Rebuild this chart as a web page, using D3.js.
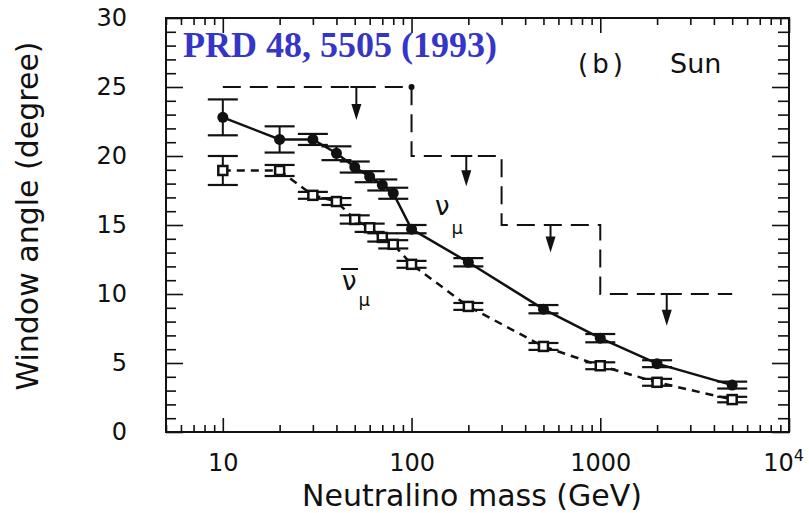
<!DOCTYPE html>
<html>
<head>
<meta charset="utf-8">
<title>Window angle vs neutralino mass (Sun)</title>
<style>
body { margin: 0; background: #fff; }
text { font-family: "DejaVu Sans", sans-serif; fill: #111; }
.tick line { stroke: #111; stroke-width: 1.6; }
</style>
</head>
<body>
<svg id="chart"></svg>
<script src="https://cdn.jsdelivr.net/npm/d3@7/dist/d3.min.js"></script>
<script>
// neutralino masses (GeV) shared by both curves
var mass = [10, 20, 30, 40, 50, 60, 70, 80, 100, 200, 500, 1000, 2000, 5000];
// nu_mu : solid line, filled dots
var nuMu    = [22.8, 21.2, 21.2, 20.2, 19.2, 18.5, 17.9, 17.3, 14.7, 12.3, 8.9, 6.8, 4.95, 3.4];
var nuMuErr = [1.3, 0.95, 0.4, 0.5, 0.4, 0.4, 0.4, 0.4, 0.3, 0.3, 0.3, 0.3, 0.25, 0.25];
// anti nu_mu : dashed line, open squares
var antiNu    = [18.95, 18.95, 17.15, 16.7, 15.4, 14.8, 14.1, 13.6, 12.15, 9.1, 6.2, 4.8, 3.6, 2.35];
var antiNuErr = [1.05, 0.4, 0.25, 0.25, 0.3, 0.3, 0.3, 0.3, 0.25, 0.25, 0.25, 0.25, 0.25, 0.2];
// upper limit staircase
var stepMass  = [10, 100, 100, 300, 300, 1000, 1000, 5000];
var stepAngle = [25, 25, 20, 20, 15, 15, 10, 10];
// down arrows hanging from the staircase
var arrowMass = [51, 195, 545, 2250];
var arrowFrom = [25, 20, 15, 10];
var arrowTo   = [22.6, 17.8, 13.0, 7.7];
// axis ticks
var xMajor = [10, 100, 1000, 10000];
var yMajor = [0, 5, 10, 15, 20, 25, 30];

var margin = { top: 18, right: 20, bottom: 81, left: 166 };
var width = 809 - margin.left - margin.right,
	height = 513 - margin.top - margin.bottom;

var x = d3.scaleLog()
	.domain([5, 10000])
	.range([0, width]);

var y = d3.scaleLinear()
	.domain([0, 30])
	.range([height, 0]);

var xMinor = x.ticks().filter(function (d) { return xMajor.indexOf(d) < 0; });
var yMinor = d3.range(0, 31).filter(function (d) { return d % 5 != 0; });

var root = d3.select("#chart")
	.attr("width", 809)
	.attr("height", 513);

var svg = root.append("g")
	.attr("transform", "translate(" + margin.left + "," + margin.top + ")");

function noDomain(g) { g.select(".domain").remove(); }
function tickFont(g) { g.attr("font-size", 24).attr("font-family", "DejaVu Sans"); }

// bottom
svg.append("g")
	.attr("transform", "translate(0," + height + ")")
	.call(d3.axisBottom(x).tickValues(xMinor).tickSize(-7).tickFormat(""))
	.call(noDomain);
var xAxisG = svg.append("g")
	.attr("transform", "translate(0," + height + ")")
	.call(d3.axisBottom(x).tickValues(xMajor).tickSize(-14).tickPadding(22)
		.tickFormat(function (d) { return d == 10000 ? "10" : d; }))
	.call(noDomain)
	.call(tickFont);
var lastTick = xAxisG.selectAll(".tick text")
	.filter(function (d) { return d == 10000; })
	.attr("dx", -6);
lastTick.append("tspan")
	.attr("dy", -10)
	.attr("font-size", 16)
	.text("4");

// top
svg.append("g")
	.call(d3.axisTop(x).tickValues(xMinor).tickSize(-7).tickFormat(""))
	.call(noDomain);
svg.append("g")
	.call(d3.axisTop(x).tickValues(xMajor).tickSize(-15).tickFormat(""))
	.call(noDomain);

// left
svg.append("g")
	.call(d3.axisLeft(y).tickValues(yMinor).tickSize(-10).tickFormat(""))
	.call(noDomain);
svg.append("g")
	.call(d3.axisLeft(y).tickValues(yMajor).tickSize(-17).tickPadding(39))
	.call(noDomain)
	.call(tickFont);

// right
svg.append("g")
	.attr("transform", "translate(" + width + ",0)")
	.call(d3.axisRight(y).tickValues(yMinor).tickSize(-11).tickFormat(""))
	.call(noDomain);
svg.append("g")
	.attr("transform", "translate(" + width + ",0)")
	.call(d3.axisRight(y).tickValues(yMajor).tickSize(-17).tickFormat(""))
	.call(noDomain);

svg.append("rect")
	.attr("width", width)
	.attr("height", height)
	.attr("fill", "none")
	.attr("stroke", "#111")
	.attr("stroke-width", 2);

var line = d3.line()
	.x(function (d) { return x(d[0]); })
	.y(function (d) { return y(d[1]); });

// staircase limit
svg.append("path")
	.datum(d3.zip(stepMass, stepAngle))
	.attr("d", line)
	.attr("fill", "none")
	.attr("stroke", "#111")
	.attr("stroke-width", 2)
	.attr("stroke-dasharray", "18,9");
svg.append("circle")
	.attr("cx", x(stepMass[1]))
	.attr("cy", y(stepAngle[1]))
	.attr("r", 3)
	.attr("fill", "#111");

var arrows = svg.selectAll(".arrow")
	.data(d3.zip(arrowMass, arrowFrom, arrowTo))
	.enter()
	.append("g")
	.attr("class", "arrow");
arrows.append("line")
	.attr("x1", function (d) { return x(d[0]); })
	.attr("x2", function (d) { return x(d[0]); })
	.attr("y1", function (d) { return y(d[1]); })
	.attr("y2", function (d) { return y(d[2]) - 14; })
	.attr("stroke", "#111")
	.attr("stroke-width", 2);
arrows.append("line")
	.attr("x1", function (d) { return x(d[0]) - 6; })
	.attr("x2", function (d) { return x(d[0]) + 6; })
	.attr("y1", function (d) { return y(d[1]); })
	.attr("y2", function (d) { return y(d[1]); })
	.attr("stroke", "#111")
	.attr("stroke-width", 2);
arrows.append("path")
	.attr("d", function (d) {
		var cx = x(d[0]), ty = y(d[2]);
		return "M" + (cx - 5) + "," + (ty - 16) + "L" + (cx + 5) + "," + (ty - 16) + "L" + cx + "," + ty + "Z";
	})
	.attr("fill", "#111");

// series
function drawSeries(vals, errs, dash, marker) {
	var pts = d3.zip(mass, vals, errs);
	var path = svg.append("path")
		.datum(pts)
		.attr("d", line)
		.attr("fill", "none")
		.attr("stroke", "#111")
		.attr("stroke-width", 2.5);
	if (dash) path.attr("stroke-dasharray", dash);

	var eb = svg.selectAll(null)
		.data(pts)
		.enter()
		.append("g");
	eb.append("line")
		.attr("x1", function (d) { return x(d[0]); })
		.attr("x2", function (d) { return x(d[0]); })
		.attr("y1", function (d) { return y(d[1] - d[2]); })
		.attr("y2", function (d) { return y(d[1] + d[2]); })
		.attr("stroke", "#111")
		.attr("stroke-width", 2);
	[-1, 1].forEach(function (s) {
		eb.append("line")
			.attr("x1", function (d) { return x(d[0]) - 15; })
			.attr("x2", function (d) { return x(d[0]) + 15; })
			.attr("y1", function (d) { return y(d[1] + s * d[2]); })
			.attr("y2", function (d) { return y(d[1] + s * d[2]); })
			.attr("stroke", "#111")
			.attr("stroke-width", 2.2);
	});
	if (marker == "circle") {
		eb.append("circle")
			.attr("cx", function (d) { return x(d[0]); })
			.attr("cy", function (d) { return y(d[1]); })
			.attr("r", 5.5)
			.attr("fill", "#111");
	} else {
		eb.append("rect")
			.attr("x", function (d) { return x(d[0]) - 4.5; })
			.attr("y", function (d) { return y(d[1]) - 4.5; })
			.attr("width", 9)
			.attr("height", 9)
			.attr("fill", "#fff")
			.attr("stroke", "#111")
			.attr("stroke-width", 2.5);
	}
}
drawSeries(antiNu, antiNuErr, "8,6", "square");
drawSeries(nuMu, nuMuErr, null, "circle");

// labels
root.append("text")
	.attr("x", 183)
	.attr("y", 57)
	.style("font-family", "'Liberation Serif', serif")
	.style("font-weight", "bold")
	.style("font-size", "36px")
	.style("fill", "#3535c8")
	.text("PRD 48, 5505 (1993)");

root.append("text")
	.attr("x", 578)
	.attr("y", 73)
	.attr("font-size", 26)
	.attr("letter-spacing", 4)
	.text("(b)");
root.append("text")
	.attr("x", 670)
	.attr("y", 73)
	.attr("font-size", 27)
	.text("Sun");

var nuLabel = root.append("text")
	.attr("x", 435)
	.attr("y", 215)
	.attr("font-size", 26)
	.text("ν");
nuLabel.append("tspan").attr("dx", 2).attr("dy", 19).attr("font-size", 18).text("μ");

var antiLabel = root.append("text")
	.attr("x", 342)
	.attr("y", 290)
	.attr("font-size", 26)
	.text("ν");
antiLabel.append("tspan").attr("dx", 2).attr("dy", 16).attr("font-size", 18).text("μ");
root.append("line")
	.attr("x1", 341).attr("x2", 358)
	.attr("y1", 269).attr("y2", 269)
	.attr("stroke", "#111")
	.attr("stroke-width", 2);

root.append("text")
	.attr("transform", "translate(38,216) rotate(-90)")
	.attr("text-anchor", "middle")
	.attr("font-size", 30)
	.text("Window angle (degree)");

root.append("text")
	.attr("x", 472)
	.attr("y", 506)
	.attr("text-anchor", "middle")
	.attr("font-size", 30)
	.text("Neutralino mass (GeV)");
</script>
</body>
</html>
